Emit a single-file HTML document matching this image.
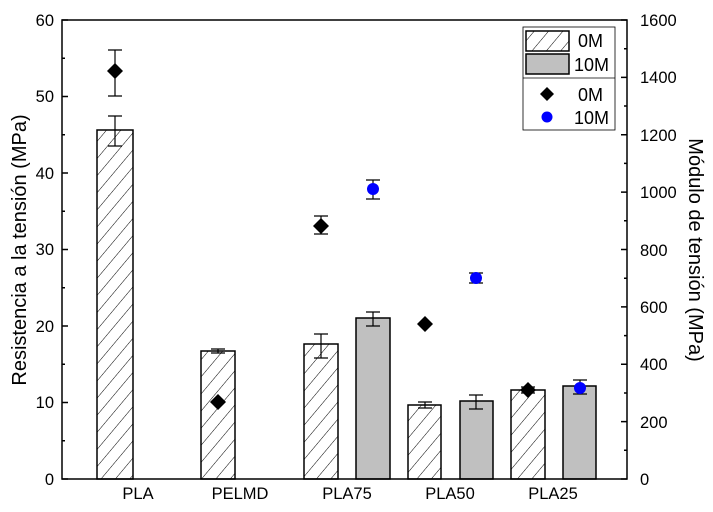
<!DOCTYPE html>
<html><head><style>body{margin:0;background:#fff}svg{display:block}</style></head><body>
<svg width="713" height="512" xmlns="http://www.w3.org/2000/svg" font-family="Liberation Sans, sans-serif">
<defs><pattern id="h" width="11" height="11" patternUnits="userSpaceOnUse" patternTransform="rotate(40)"><line x1="0" y1="0" x2="0" y2="11" stroke="#000" stroke-width="1"/></pattern></defs>
<g stroke="#000" stroke-width="1.5">
<rect x="97" y="130" width="36" height="349" fill="url(#h)"/>
<rect x="201" y="351" width="34" height="128" fill="url(#h)"/>
<rect x="304" y="344" width="34" height="135" fill="url(#h)"/>
<rect x="356" y="318" width="34" height="161" fill="#c0c0c0"/>
<rect x="408" y="405" width="33" height="74" fill="url(#h)"/>
<rect x="460" y="401" width="33" height="78" fill="#c0c0c0"/>
<rect x="511" y="390" width="34" height="89" fill="url(#h)"/>
<rect x="563" y="386" width="33" height="93" fill="#c0c0c0"/>
</g>
<g stroke="#000" stroke-width="1.2" fill="none">
<path d="M115 116V146M108 116H122M108 146H122"/>
<path d="M218 349V353M211 349H225M211 353H225"/>
<path d="M321 334V358M314 334H328M314 358H328"/>
<path d="M373 312V326M366 312H380M366 326H380"/>
<path d="M425 402V408M418 402H432M418 408H432"/>
<path d="M476 395V409M469 395H483M469 409H483"/>
<path d="M528 387V393M521 387H535M521 393H535"/>
<path d="M580 380V394M573 380H587M573 394H587"/>
<path d="M115 50V96M108 50H122M108 96H122"/>
<path d="M321 216V234M314 216H328M314 234H328"/>
<path d="M373 180V199M366 180H380M366 199H380"/>
<path d="M476 273V283M469 273H483M469 283H483"/>
</g>
<g fill="#000">
<path d="M115 63l8 8-8 8-8-8z"/><path d="M218 394l8 8-8 8-8-8z"/><path d="M321 218l8 8-8 8-8-8z"/><path d="M425 316l8 8-8 8-8-8z"/><path d="M528 382l8 8-8 8-8-8z"/>
</g>
<g fill="#0000ff"><circle cx="373" cy="189" r="6"/><circle cx="476" cy="278" r="6"/><circle cx="580" cy="388" r="6"/></g>
<rect x="62" y="20" width="565" height="459" fill="none" stroke="#000" stroke-width="1.5"/>
<g stroke="#000" stroke-width="1.5">
<path d="M62 479h6M62 402.5h6M62 326h6M62 249.5h6M62 173h6M62 96.5h6M62 20h6"/>
<path d="M62 440.75h3M62 364.25h3M62 287.75h3M62 211.25h3M62 134.75h3M62 58.25h3"/>
<path d="M627 479h-6M627 421.6h-6M627 364.25h-6M627 306.9h-6M627 249.5h-6M627 192.1h-6M627 134.75h-6M627 77.4h-6M627 20h-6"/>
<path d="M627 450.3h-3M627 393h-3M627 335.6h-3M627 278.2h-3M627 220.8h-3M627 163.4h-3M627 106h-3M627 48.7h-3"/>
</g>
<g font-size="16.5" text-anchor="end">
<text x="54" y="485">0</text><text x="54" y="408">10</text><text x="54" y="332">20</text><text x="54" y="255">30</text><text x="54" y="179">40</text><text x="54" y="102">50</text><text x="54" y="26">60</text>
</g>
<g font-size="16.5" text-anchor="start">
<text x="640" y="485">0</text><text x="640" y="428">200</text><text x="640" y="370">400</text><text x="640" y="313">600</text><text x="640" y="256">800</text><text x="640" y="198">1000</text><text x="640" y="141">1200</text><text x="640" y="83">1400</text><text x="640" y="26">1600</text>
</g>
<g font-size="16.5" text-anchor="middle">
<text x="138" y="499">PLA</text><text x="240" y="499">PELMD</text><text x="347" y="499">PLA75</text><text x="450" y="499">PLA50</text><text x="553" y="499">PLA25</text>
</g>
<text transform="translate(26 250) rotate(-90)" font-size="20" text-anchor="middle">Resistencia a la tensión (MPa)</text>
<text transform="translate(689 250) rotate(90)" font-size="20" text-anchor="middle">Módulo de tensión (MPa)</text>
<rect x="523" y="27" width="92" height="103" fill="#fff" stroke="#000" stroke-width="0.8"/>
<line x1="523" y1="78" x2="615" y2="78" stroke="#000" stroke-width="0.8"/>
<rect x="526" y="31" width="43" height="20" fill="url(#h)" stroke="#000" stroke-width="1.5"/>
<rect x="526" y="54" width="43" height="20" fill="#c0c0c0" stroke="#000" stroke-width="1.5"/>
<path d="M547 87l7 7-7 7-7-7z" fill="#000"/><circle cx="547" cy="117" r="5.5" fill="#0000ff"/>
<g font-size="18"><text x="578" y="47">0M</text><text x="574" y="71">10M</text><text x="578" y="101">0M</text><text x="574" y="124">10M</text></g>
</svg>
</body></html>
